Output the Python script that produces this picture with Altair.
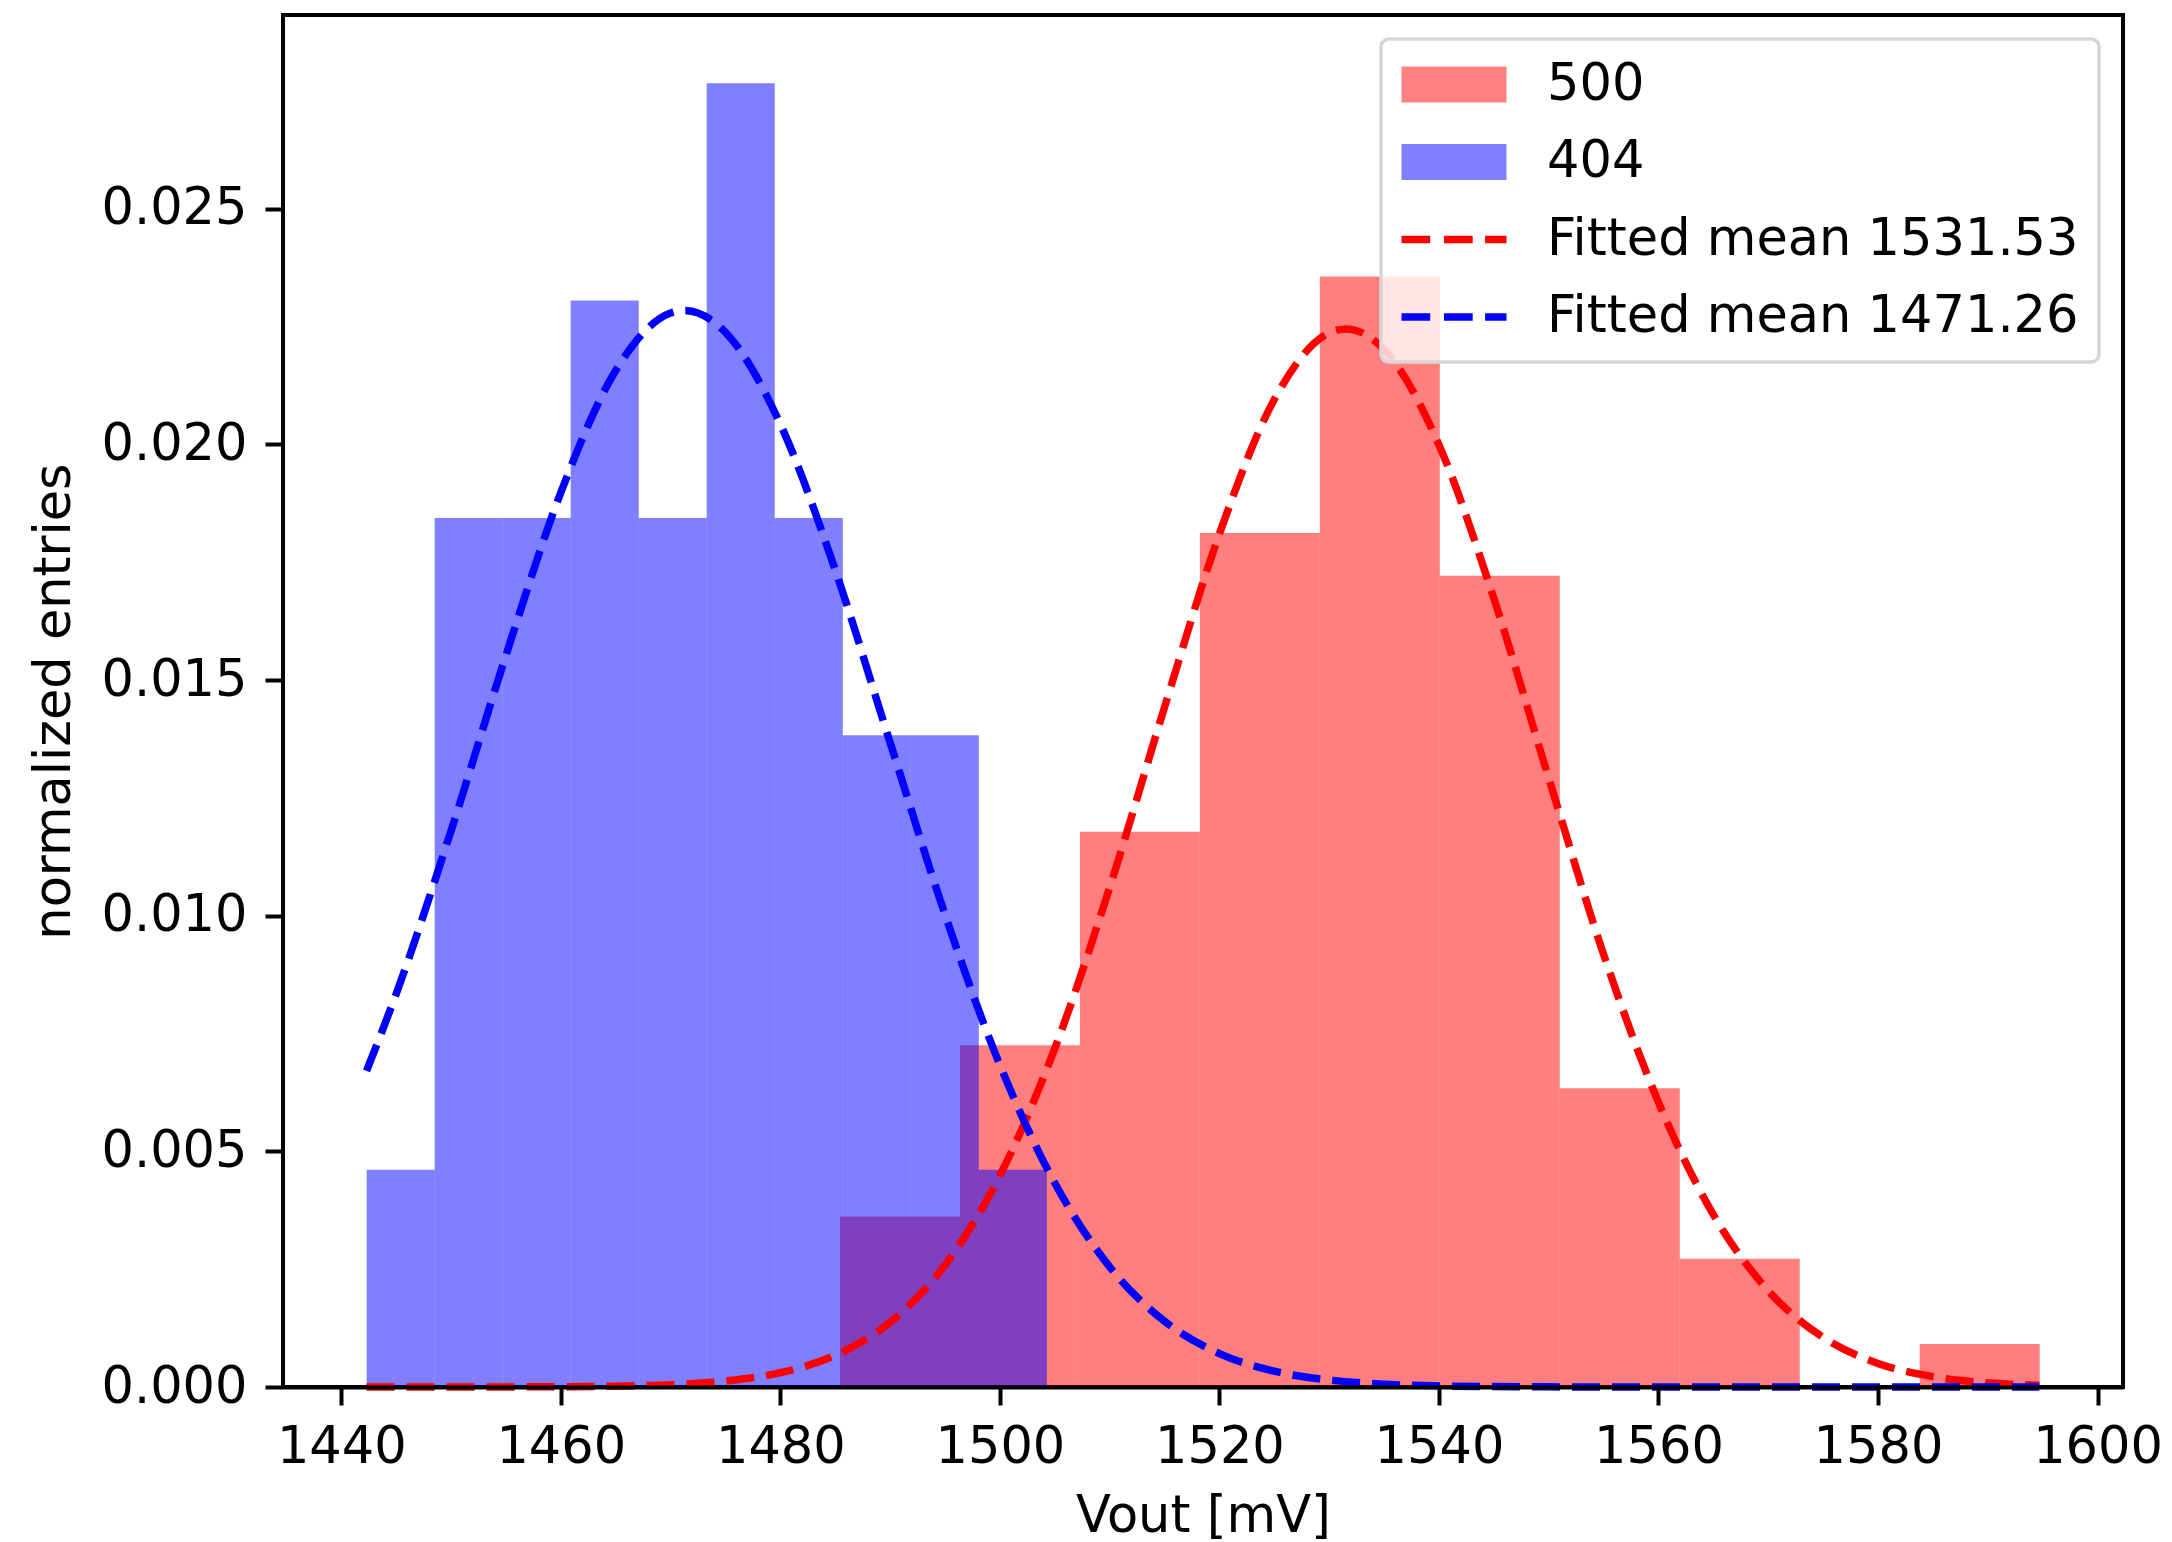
import altair as alt
import pandas as pd

# ---- histogram data (normalized entries) ----
red_edges = [1485.43, 1496.36, 1507.29, 1518.22, 1529.15, 1540.08,
             1551.01, 1561.94, 1572.87, 1583.80, 1594.73]
red_density = [0.00362, 0.00725, 0.01178, 0.01812, 0.02356,
               0.01721, 0.00634, 0.00272, 0.0, 0.00091]

blue_edges = [1442.31, 1448.51, 1454.70, 1460.90, 1467.10, 1473.29,
              1479.49, 1485.69, 1491.89, 1498.08, 1504.28]
blue_density = [0.00461, 0.01844, 0.01844, 0.02305, 0.01844,
                0.02766, 0.01844, 0.01383, 0.01383, 0.00461]

# ---- fitted curves ----
red_fit_x = [1442.3, 1450, 1460, 1465, 1470, 1475, 1480, 1485, 1490, 1495,
             1500, 1505, 1510, 1515, 1520, 1525, 1530, 1531.53, 1535, 1540,
             1545, 1550, 1555, 1560, 1565, 1570, 1575, 1580, 1585, 1590, 1594.7]
red_fit_y = [0.0, 0.0000005, 0.0000056, 0.0000173, 0.0000488, 0.000127,
             0.000304, 0.000673, 0.001374, 0.002586, 0.004487, 0.007180,
             0.010596, 0.014422, 0.018101, 0.020952, 0.022365, 0.022450,
             0.022016, 0.019987, 0.016733, 0.012920, 0.009179, 0.006040,
             0.003658, 0.002043, 0.001052, 0.000500, 0.000219, 0.000088,
             0.000035]

blue_fit_x = [1442.3, 1445, 1450, 1455, 1460, 1465, 1470, 1471.26, 1475,
              1480, 1485, 1490, 1495, 1500, 1505, 1510, 1515, 1520, 1525,
              1530, 1535, 1540, 1545, 1550, 1560, 1570, 1580, 1590, 1594.7]
blue_fit_y = [0.006708, 0.008340, 0.011801, 0.015522, 0.018978, 0.021569,
              0.022787, 0.022840, 0.022378, 0.020428, 0.017335, 0.013673,
              0.010026, 0.006833, 0.004329, 0.002550, 0.001396, 0.000710,
              0.000336, 0.000148, 0.000060, 0.000023, 0.000008, 0.000003,
              0.0, 0.0, 0.0, 0.0, 0.0]

legend_labels = ["500", "404", "Fitted mean 1531.53", "Fitted mean 1471.26"]
legend_colors = ["#ff8080", "#8080ff", "#ff0000", "#0000ff"]
# legend handle shapes (unit = half the symbol size)
patch_path = "M-1,-0.72H3.2V0.72H-1Z"
dash_path = ("M-1,-0.15H0.148V0.15H-1Z "
             "M0.70,-0.15H1.848V0.15H0.70Z "
             "M2.344,-0.15H3.2V0.15H2.344Z")
legend_shapes = [patch_path, patch_path, dash_path, dash_path]

x_ticks = [1440, 1460, 1480, 1500, 1520, 1540, 1560, 1580, 1600]
y_ticks = [0.0, 0.005, 0.010, 0.015, 0.020, 0.025]
x_domain = [1434.69, 1602.32]
y_domain = [0.0, 0.02911]

FONT = "DejaVu Sans"


def hist_df(edges, dens):
    return pd.DataFrame({"start": edges[:-1], "end": edges[1:], "y": dens})


x_scale = alt.Scale(domain=x_domain, nice=False, zero=False)
y_scale = alt.Scale(domain=y_domain, nice=False, zero=False)

x_axis = alt.Axis(values=x_ticks, format="d", title="Vout [mV]", grid=False,
                  domain=True, domainColor="black", domainWidth=4,
                  tickSize=18, tickWidth=4, tickColor="black",
                  labelPadding=17, titlePadding=19, zindex=1)
y_axis = alt.Axis(values=y_ticks, format=".3f", title="normalized entries",
                  grid=False, domain=False, tickSize=18, tickWidth=4,
                  tickColor="black", labelPadding=18, titlePadding=20)


def bars(edges, dens, color):
    return alt.Chart(hist_df(edges, dens)).mark_rect(
        color=color, opacity=0.5, strokeWidth=0
    ).encode(
        x=alt.X("start:Q", scale=x_scale, axis=x_axis),
        x2="end:Q",
        y=alt.Y("y:Q", scale=y_scale, axis=y_axis),
        y2=alt.datum(0),
    )


def fit_line(xs, ys, color):
    df = pd.DataFrame({"start": xs, "y": ys})
    return alt.Chart(df).mark_line(
        color=color, strokeWidth=7.5, strokeDash=[28, 12],
        interpolate="monotone", strokeCap="butt"
    ).encode(
        x=alt.X("start:Q", scale=x_scale, axis=x_axis),
        y=alt.Y("y:Q", scale=y_scale, axis=y_axis),
    )


red_bars = bars(red_edges, red_density, "#ff0000")
blue_bars = bars(blue_edges, blue_density, "#0000ff")
red_line = fit_line(red_fit_x, red_fit_y, "#ff0000")
blue_line = fit_line(blue_fit_x, blue_fit_y, "#0000ff")

legend_layer = alt.Chart(pd.DataFrame({"label": legend_labels})).mark_point(
    filled=True, opacity=0
).encode(
    color=alt.Color("label:N",
                    scale=alt.Scale(domain=legend_labels, range=legend_colors),
                    legend=alt.Legend(title=None, orient="top-right")),
    shape=alt.Shape("label:N",
                    scale=alt.Scale(domain=legend_labels, range=legend_shapes),
                    legend=alt.Legend(title=None, orient="top-right")),
)

chart = alt.layer(
    red_bars, blue_bars, red_line, blue_line, legend_layer
).properties(
    width=1840,
    height=1372,
    autosize=alt.AutoSizeParams(type="none"),
    padding={"left": 283, "top": 15, "right": 49, "bottom": 155},
    background="white",
).configure_view(
    stroke="black", strokeWidth=4
).configure_axis(
    labelFont=FONT, labelFontSize=51, labelColor="black", labelLimit=0,
    titleFont=FONT, titleFontSize=51, titleFontWeight="normal",
    titleColor="black",
).configure_legend(
    labelFont=FONT, labelFontSize=51, labelColor="black", labelLimit=0,
    labelOffset=95, padding=20, offset=24, rowPadding=25.5,
    symbolSize=2500, symbolStrokeWidth=0, symbolOpacity=1,
    fillColor="rgba(255,255,255,0.8)", strokeColor="#d6d6d6",
    cornerRadius=8, strokeWidth=3.5,
)

chart.save("out.html", embed_options={"renderer": "svg", "actions": False})
